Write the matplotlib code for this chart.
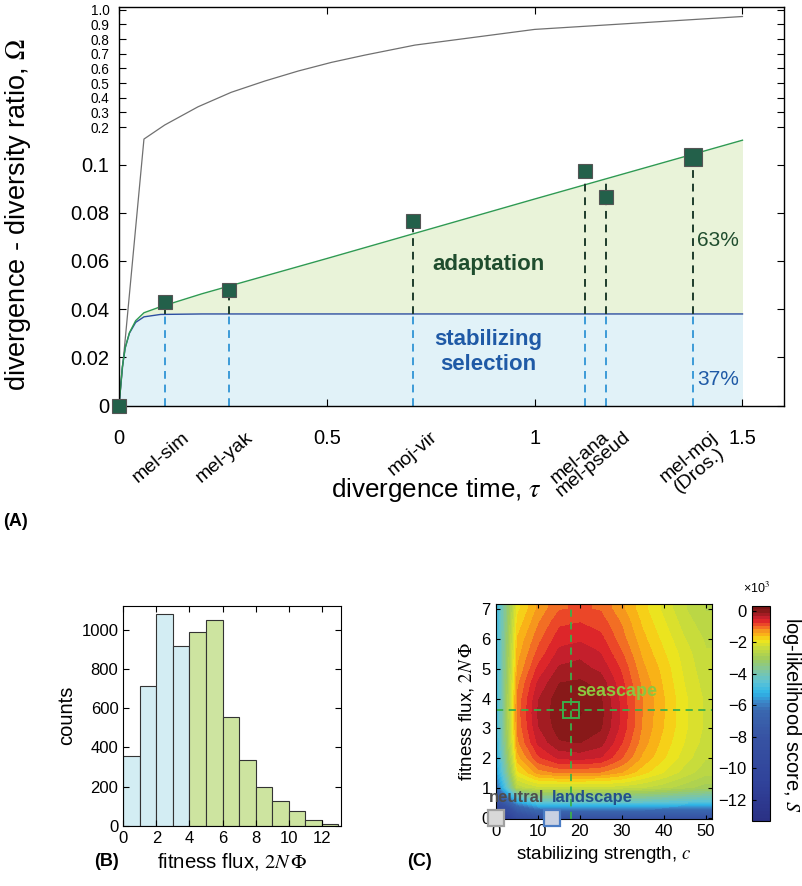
import numpy as np
import matplotlib
matplotlib.use("Agg")
import matplotlib.pyplot as plt
from matplotlib.colors import LinearSegmentedColormap
from matplotlib.transforms import ScaledTranslation

plt.rcParams["font.family"] = ["Liberation Sans", "DejaVu Sans"]
plt.rcParams["mathtext.fontset"] = "stix"

# ---------------- data: panel A ----------------
tau_curve = [0, 0.008, 0.015, 0.025, 0.04, 0.06, 0.1, 0.2, 0.5, 1.0, 1.5]
stab_curve = [0, 0.016, 0.024, 0.030, 0.0345, 0.0368, 0.0378, 0.0380, 0.0380, 0.0380, 0.0380]
total_curve = [0, 0.016, 0.024, 0.0302, 0.0352, 0.0385, 0.0410, 0.0464, 0.0610, 0.0857, 0.1102]

tau_omega = [0, 0.060, 0.110, 0.190, 0.270, 0.351, 0.431, 0.511, 0.592, 0.712, 1.0, 1.5]
omega_curve = [0, 0.118, 0.214, 0.338, 0.437, 0.514, 0.582, 0.641, 0.691, 0.759, 0.866, 0.954]

species = ["mel-sim", "mel-yak", "moj-vir", "mel-ana", "mel-pseud", "mel-moj\n(Dros.)"]
tau_species = [0.1096, 0.2639, 0.707, 1.120, 1.171, 1.380]
omega_species = [0.0428, 0.0480, 0.0766, 0.0973, 0.0866, 0.1030]

# ---------------- data: panel B ----------------
flux_bins = [0, 1, 2, 3, 4, 5, 6, 7, 8, 9, 10, 11, 12]
flux_counts = [358, 715, 1080, 920, 991, 1049, 554, 336, 198, 126, 77, 27, 7]

# ---------------- data: panel C ----------------
c_values = [0, 5, 10, 15, 20, 25, 30, 35, 40, 45, 50]
phi_values = [0, 0.5, 1, 1.5, 2, 2.5, 3, 3.5, 4, 4.5, 5, 5.5, 6, 6.5, 7]
score_grid = [  # x10^3, rows = phi, cols = c
    [-13.3, -9.0, -8.0, -8.0, -8.0, -8.0, -8.0, -8.0, -8.0, -8.0, -8.0],
    [-8.5, -5.5, -4.5, -4.4, -4.4, -4.4, -4.4, -4.4, -4.5, -4.6, -4.7],
    [-6.3, -2.6, -2.3, -2.3, -2.3, -2.3, -2.35, -2.45, -2.6, -2.8, -3.0],
    [-5.6, -1.9, -1.3, -1.15, -1.15, -1.2, -1.4, -1.75, -2.05, -2.35, -2.6],
    [-5.3, -1.5, -0.8, -0.5, -0.45, -0.55, -0.95, -1.45, -1.8, -2.15, -2.45],
    [-5.1, -1.25, -0.5, -0.15, -0.12, -0.25, -0.75, -1.3, -1.7, -2.05, -2.35],
    [-5.0, -1.15, -0.35, -0.02, 0.05, -0.1, -0.62, -1.22, -1.62, -2.0, -2.3],
    [-5.0, -1.1, -0.3, 0.02, 0.1, -0.05, -0.6, -1.2, -1.6, -2.0, -2.3],
    [-5.0, -1.15, -0.35, 0.0, 0.05, -0.1, -0.62, -1.2, -1.6, -2.0, -2.3],
    [-5.0, -1.25, -0.5, -0.12, -0.08, -0.2, -0.7, -1.25, -1.65, -2.05, -2.35],
    [-5.0, -1.4, -0.7, -0.3, -0.25, -0.4, -0.8, -1.35, -1.7, -2.1, -2.4],
    [-5.0, -1.5, -0.9, -0.48, -0.4, -0.55, -0.95, -1.45, -1.8, -2.15, -2.45],
    [-5.0, -1.6, -1.05, -0.65, -0.6, -0.7, -1.1, -1.55, -1.9, -2.25, -2.5],
    [-5.0, -1.75, -1.2, -0.8, -0.75, -0.85, -1.2, -1.65, -2.0, -2.35, -2.6],
    [-5.0, -1.9, -1.35, -1.0, -0.95, -1.0, -1.35, -1.75, -2.1, -2.45, -2.7],
]
seascape = (18, 3.63)
landscape = (13.5, 0)
neutral = (0, 0)

DARK_GREEN = "#23604a"
LINE_GREEN = "#2f9a52"
LINE_BLUE = "#2c4ea3"
FILL_GREEN = "#e9f3d9"
FILL_BLUE = "#e1f2f8"
DASH_BLUE = "#3c9bd8"

fig = plt.figure(figsize=(8.02, 8.86), dpi=100)

# ================= panel A =================
axA = fig.add_axes([0.1484, 0.5423, 0.8292, 0.4494])

# broken y axis: steep linear part below ~0.11, compressed above
knots_y = [-1, 0, 0.1101, 3]
knots_h = [-2410, 0, 265.3, 265.3 + 2.8899 * 146.6]


def fwd(y):
    return np.interp(y, knots_y, knots_h)


def inv(h):
    return np.interp(h, knots_h, knots_y)


axA.set_yscale("function", functions=(fwd, inv))

axA.fill_between(tau_curve, 0, stab_curve, color=FILL_BLUE, lw=0)
axA.fill_between(tau_curve, stab_curve, total_curve, color=FILL_GREEN, lw=0)
axA.plot(tau_omega, omega_curve, color="#707070", lw=0.9)
axA.plot(tau_curve, stab_curve, color=LINE_BLUE, lw=1.0)
axA.plot(tau_curve, total_curve, color=LINE_GREEN, lw=1.0)

blue_at = np.interp(tau_species, tau_curve, stab_curve)
green_at = np.interp(tau_species, tau_curve, total_curve)
top_at = np.maximum(green_at, omega_species)
axA.vlines(tau_species, 0, blue_at, colors=DASH_BLUE, linestyles=(0, (4, 3)), lw=1.4)
axA.vlines(tau_species, blue_at, top_at, colors="#1e3d2c", linestyles=(0, (4, 3)), lw=1.4)

axA.plot([0] + tau_species[:-1], [0] + omega_species[:-1], "s", ms=9.5,
         mfc=DARK_GREEN, mec="#555555", mew=0.8, clip_on=False, zorder=5)
axA.plot(tau_species[-1:], omega_species[-1:], "s", ms=13,
         mfc=DARK_GREEN, mec="#555555", mew=0.8, clip_on=False, zorder=5)

axA.text(0.888, 0.0587, "adaptation", color="#1f4d2e", fontsize=16,
         fontweight="bold", ha="center", va="center")
axA.text(0.888, 0.0222, "stabilizing\nselection", color="#1f5aa6", fontsize=16,
         fontweight="bold", ha="center", va="center", linespacing=1.25)
axA.text(1.442, 0.0683, "63%", color="#1f4d2e", fontsize=15, ha="center", va="center")
axA.text(1.442, 0.0106, "37%", color="#1f5aa6", fontsize=15, ha="center", va="center")

axA.set_xlim(0, 1.6)
axA.set_ylim(0, 1.0164)
axA.set_xticks([0, 0.5, 1, 1.5])
axA.set_xticklabels(["0", "0.5", "1", "1.5"], fontsize=14.5)
yt = [0, 0.02, 0.04, 0.06, 0.08, 0.1, 0.2, 0.3, 0.4, 0.5, 0.6, 0.7, 0.8, 0.9, 1.0]
axA.set_yticks(yt)
axA.set_yticklabels(["0", "0.02", "0.04", "0.06", "0.08", "0.1"] +
                    ["%.1f" % v for v in yt[6:]])
for i, lab in enumerate(axA.get_yticklabels()):
    lab.set_fontsize(14.5 if i < 6 else 9.8)
axA.minorticks_off()
axA.tick_params(direction="in", length=5, top=True, right=True, width=0.8)
axA.tick_params(axis="y", pad=7)
axA.tick_params(axis="x", pad=17)
for s in axA.spines.values():
    s.set_linewidth(1.0)

off = ScaledTranslation(17 / 100, -23 / 100, fig.dpi_scale_trans)
for t, name in zip(tau_species, species):
    axA.text(t, 0, name, transform=axA.get_xaxis_transform() + off, rotation=40,
             rotation_mode="anchor", ha="right", va="top", fontsize=14,
             multialignment="center", linespacing=1.0)

fig.text(18 / 802, 1 - 214 / 886, "divergence - diversity ratio, $\\Omega$",
         rotation=90, ha="center", va="center", fontsize=19.5)
fig.text(437 / 802, 1 - 490 / 886, "divergence time, $\\tau$",
         ha="center", va="center", fontsize=18.7)
fig.text(15 / 802, 1 - 522 / 886, "(A)", fontsize=13, fontweight="bold",
         ha="center", va="center")

# ================= panel B =================
axB = fig.add_axes([0.1538, 0.0681, 0.2711, 0.2483])
bar_colors = ["#d3edf3" if b < 4 else "#cde4a0" for b in flux_bins]
axB.bar(flux_bins, flux_counts, width=1, align="edge", color=bar_colors,
        edgecolor="#333333", lw=0.8)
axB.set_xlim(0, 13.15)
axB.set_ylim(0, 1124)
axB.set_xticks([0, 2, 4, 6, 8, 10, 12])
axB.set_yticks([0, 200, 400, 600, 800, 1000])
axB.tick_params(direction="in", length=4, top=True, right=True, labelsize=12)
axB.set_xlabel("fitness flux, $2N\\,\\Phi$", fontsize=14.7, labelpad=4)
axB.set_ylabel("counts", fontsize=14.5, labelpad=4)
fig.text(107 / 802, 1 - 862 / 886, "(B)", fontsize=13, fontweight="bold",
         ha="center", va="center")

# ================= panel C =================
axC = fig.add_axes([0.6181, 0.0756, 0.2693, 0.2427])
stops = [(-13.33, "#2b3185"), (-11, "#30429a"), (-8, "#3753a3"), (-6.3, "#3a68b0"),
         (-5.8, "#3b86c8"), (-5.2, "#2eb5e8"), (-4.5, "#5cc3d6"), (-3.8, "#7ec6a4"),
         (-3.0, "#a0cc5c"), (-2.3, "#c8dc3c"), (-1.8, "#f1e61b"), (-1.5, "#fbbb16"),
         (-1.2, "#f6961e"), (-0.9, "#f15c27"), (-0.6, "#e2282a"), (-0.3, "#bf1e2d"),
         (0.0, "#8e1b1b"), (0.30, "#7a1416")]
vmin, vmax = -13.33, 0.30
cmap = LinearSegmentedColormap.from_list(
    "score", [((s - vmin) / (vmax - vmin), c) for s, c in stops]).resampled(64)

dc = c_values[1] - c_values[0]
dp = phi_values[1] - phi_values[0]
im = axC.imshow(np.array(score_grid), origin="lower", aspect="auto", cmap=cmap,
                vmin=vmin, vmax=vmax, interpolation="bilinear",
                extent=[c_values[0] - dc / 2, c_values[-1] + dc / 2,
                        phi_values[0] - dp / 2, phi_values[-1] + dp / 2])
axC.set_xlim(0, 51.4)
axC.set_ylim(-0.05, 7.18)
axC.axvline(seascape[0], color="#3bb04a", ls=(0, (4, 3)), lw=1.3)
axC.axhline(seascape[1], color="#3bb04a", ls=(0, (4, 3)), lw=1.3)
axC.plot(*seascape, "s", ms=12, mfc="none", mec="#3bb04a", mew=1.4)
axC.plot(*neutral, "s", ms=12, mfc="#d8d8d8", mec="#a0a0a0", mew=1.6, clip_on=False, zorder=5)
axC.plot(*landscape, "s", ms=12, mfc="#c9d1e2", mec="#4a7cc4", mew=1.6, clip_on=False, zorder=5)
axC.text(seascape[0] + 1.2, seascape[1] + 0.6, "seascape", color="#8cc63f",
         fontsize=13, fontweight="bold", ha="left", va="center")
axC.text(5.0, 0.66, "neutral", color="#4d4d4d", fontsize=12, fontweight="bold",
         ha="center", va="center")
axC.text(23, 0.66, "landscape", color="#234f8c", fontsize=12, fontweight="bold",
         ha="center", va="center")
axC.set_xticks([0, 10, 20, 30, 40, 50])
axC.set_yticks(range(0, 8))
axC.tick_params(direction="in", length=3, top=True, right=True, labelsize=12)
axC.set_xlabel("stabilizing strength, $c$", fontsize=13.5, labelpad=4)
axC.set_ylabel("fitness flux, $2N\\,\\Phi$", fontsize=13.5, labelpad=4)
fig.text(420 / 802, 1 - 862 / 886, "(C)", fontsize=13, fontweight="bold",
         ha="center", va="center")

cax = fig.add_axes([0.9373, 0.0734, 0.0232, 0.2427])
cb = fig.colorbar(im, cax=cax)
cb.set_ticks([0, -2, -4, -6, -8, -10, -12])
cb.outline.set_linewidth(0.8)
cax.yaxis.set_ticks_position("left")
cax.tick_params(labelsize=12, length=3, direction="in")
fig.text(757 / 802, 1 - 588 / 886, "\u00d710$^3$", fontsize=9, ha="center", va="center")
fig.text(791 / 802, 1 - 715 / 886, "log-likelihood score, $S$", rotation=270,
         fontsize=14.5, ha="center", va="center")

fig.savefig("out.png", dpi=100)
